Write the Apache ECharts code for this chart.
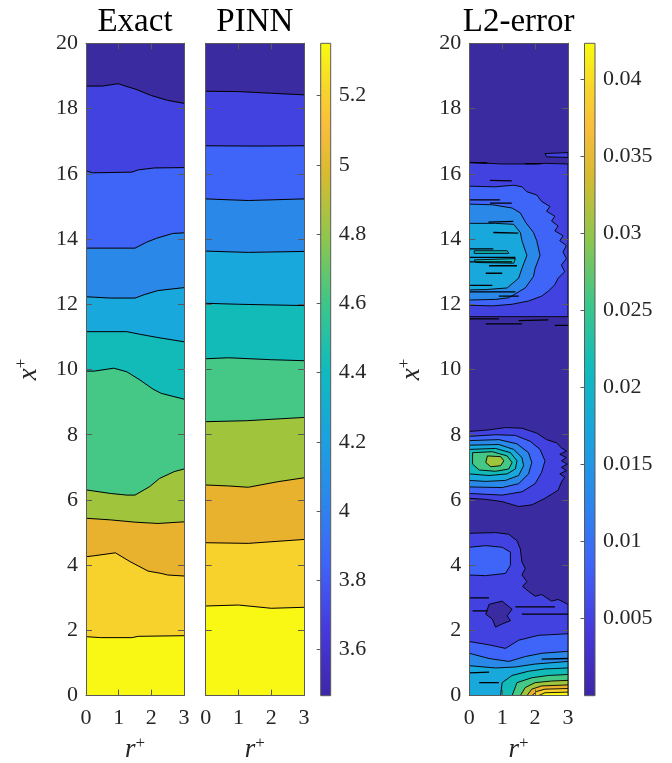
<!DOCTYPE html>
<html><head><meta charset="utf-8">
<script src="https://cdn.jsdelivr.net/npm/echarts@6/dist/echarts.min.js"></script>
<style>html,body{margin:0;padding:0;background:#fff}#c{width:672px;height:763px}</style>
</head><body><div id="c"></div>
<script>
// ---------------- data ----------------
const rTicks = [0, 1, 2, 3];
const xTicks = [0, 2, 4, 6, 8, 10, 12, 14, 16, 18, 20];
const cb1Ticks = [3.6, 3.8, 4, 4.2, 4.4, 4.6, 4.8, 5, 5.2];
const cb1Range = [3.467, 5.351];
const cb2Ticks = [0.005, 0.01, 0.015, 0.02, 0.025, 0.03, 0.035, 0.04];
const cb2Range = [0, 0.0423];
const panelTitles = ['Exact', 'PINN', 'L2-error'];
// contour fill colours, lowest band (x near 0 in Exact) first
const bandColors = ['#f8f814', '#f8d22c', '#e8b22e', '#a0c43c', '#45c885', '#12bab8', '#18a8dc', '#2a88e8', '#3f64f8', '#4242e0', '#3a2ca0'];
// parula stops for the colorbars
const parulaStops = [[0, '#3e26a8'], [0.1, '#4639dc'], [0.2, '#3f63f8'], [0.3, '#2b87ec'], [0.4, '#1aa3de'], [0.5, '#0fbbbd'], [0.6, '#3cc68a'], [0.7, '#8ec64e'], [0.8, '#d8bb30'], [0.87, '#f9bd3c'], [0.93, '#f7d52c'], [1, '#f9fb0e']];
// Exact contour lines (r, x+)
const exactLines = [
  [[0,1.81],[0.45,1.78],[1.4,1.78],[1.6,1.82],[3,1.84]],
  [[0,4.26],[0.25,4.29],[0.9,4.38],[1.35,4.11],[1.9,3.82],[2.3,3.75],[2.5,3.7],[3,3.67]],
  [[0,5.44],[0.75,5.39],[1.5,5.32],[2.2,5.28],[3,5.33]],
  [[0,6.31],[0.75,6.2],[1.25,6.15],[1.5,6.15],[1.95,6.41],[2.25,6.66],[2.7,6.87],[3,6.95]],
  [[0,9.95],[0.25,9.95],[0.85,10.04],[1.25,9.93],[1.65,9.68],[2.05,9.4],[2.3,9.27],[3,9.09]],
  [[0,11.16],[1.25,11.16],[1.65,11.08],[2.2,10.98],[3,10.85]],
  [[0,12.23],[0.75,12.19],[1.5,12.19],[1.8,12.3],[2.2,12.42],[3,12.51]],
  [[0,13.72],[1.5,13.72],[1.85,13.9],[2.15,14.02],[2.65,14.17],[3,14.19]],
  [[0,16.09],[0.2,16.03],[1.4,16.05],[1.6,16.12],[2.1,16.18],[3,16.19]],
  [[0,18.69],[0.5,18.69],[0.9,18.75],[1.0,18.76],[1.2,18.69],[1.5,18.6],[2.0,18.4],[2.5,18.25],[3,18.16]]
];
// PINN contour lines (r, x+)
const pinnLines = [
  [[0,2.75],[1,2.78],[2,2.68],[3,2.71]],
  [[0,4.69],[1.3,4.67],[3,4.79]],
  [[0,6.46],[0.7,6.43],[1.3,6.39],[2.2,6.56],[3,6.68]],
  [[0,8.4],[1.25,8.43],[3,8.53]],
  [[0,10.33],[0.7,10.36],[2,10.3],[3,10.27]],
  [[0,12.03],[1,12.0],[3,11.96]],
  [[0,13.63],[1.3,13.59],[3,13.62]],
  [[0,15.23],[1.3,15.18],[3,15.23]],
  [[0,16.86],[1.5,16.85],[3,16.86]],
  [[0,18.53],[1,18.52],[2,18.47],[3,18.42]]
];
// L2-error contour regions: [level, polygon (r, x+)]
const errColors = ['#3a2ca0', '#4242e0', '#3f64f8', '#2a88e8', '#18a8dc', '#12bab8', '#45c885', '#a0c43c', '#e8b22e', '#f8d22c', '#f8f814'];
const errUpper = [
  [1, [[0,16.35],[1.0,16.3],[2.0,16.3],[2.3,16.32],[3,16.3],[3,11.62],[0,11.62]]],
  [1, [[2.3,16.62],[3,16.65],[3,16.5],[2.35,16.52]]],
  [2, [[0,15.62],[0.8,15.6],[1.35,15.65],[1.6,15.6],[1.75,15.45],[2.05,15.35],[2.2,15.15],[2.45,15.0],[2.35,14.85],[2.6,14.7],[2.5,14.55],[2.7,14.4],[2.6,14.25],[2.85,14.1],[2.75,13.95],[2.95,13.8],[2.85,13.6],[2.95,13.4],[2.8,13.2],[2.9,13.0],[2.7,12.8],[2.6,12.6],[2.4,12.4],[2.2,12.25],[1.8,12.1],[1.3,12.0],[0.7,11.95],[0,11.97]]],
  [3, [[0,15.07],[0.7,15.05],[1.3,14.95],[1.55,14.8],[1.72,14.5],[1.95,14.2],[2.05,13.95],[2.15,13.5],[2.0,13.1],[1.95,12.85],[1.7,12.5],[1.2,12.2],[0.8,12.15],[0,12.13]]],
  [4, [[0,14.48],[0.8,14.48],[1.35,14.45],[1.55,14.2],[1.6,13.95],[1.75,13.5],[1.6,13.1],[1.5,12.8],[1.15,12.5],[0.5,12.45],[0,12.44]]],
  [5, [[0.15,13.64],[1.15,13.64],[1.2,13.56],[0.15,13.56]]],
  [5, [[0.15,13.36],[1.4,13.4],[1.35,13.26],[0.2,13.28]]]
];
const errMiddle = [
  [1, [[0,8.1],[0.6,8.15],[1.1,8.22],[1.6,8.2],[2.05,8.05],[2.35,7.85],[2.65,7.75],[2.8,7.6],[2.95,7.5],[2.75,7.4],[2.95,7.3],[2.8,7.2],[2.98,7.1],[2.8,7.0],[2.95,6.9],[2.75,6.8],[2.9,6.7],[2.8,6.55],[2.7,6.3],[2.3,6.05],[1.9,5.85],[1.5,5.8],[1.0,5.95],[0.5,6.02],[0,6.05]]],
  [2, [[0,7.95],[0.8,8.0],[1.4,7.98],[1.85,7.8],[2.15,7.55],[2.3,7.2],[2.2,6.85],[2.0,6.5],[1.6,6.25],[1.0,6.15],[0,6.2]]],
  [3, [[0,7.82],[0.9,7.85],[1.45,7.72],[1.8,7.45],[1.9,7.15],[1.8,6.8],[1.5,6.5],[1.0,6.38],[0,6.4]]],
  [4, [[0,7.68],[0.9,7.7],[1.35,7.55],[1.6,7.3],[1.65,7.05],[1.5,6.75],[1.1,6.6],[0.5,6.57],[0,6.6]]],
  [5, [[0,7.55],[0.8,7.58],[1.25,7.45],[1.45,7.2],[1.4,6.95],[1.15,6.8],[0.6,6.75],[0,6.8]]],
  [6, [[0.1,7.45],[0.7,7.48],[1.15,7.35],[1.3,7.15],[1.2,6.95],[0.8,6.88],[0.3,6.92],[0.1,7.1]]],
  [7, [[0.55,7.35],[0.95,7.33],[1.05,7.2],[0.95,7.05],[0.65,7.02],[0.5,7.15]]]
];
const errLower = [
  [1, [[0,4.98],[0.8,5.0],[1.2,4.95],[1.45,4.75],[1.55,4.5],[1.6,4.1],[1.7,3.9],[1.6,3.7],[1.75,3.5],[1.62,3.35],[1.8,3.2],[2.0,3.05],[2.2,3.1],[2.5,2.9],[2.7,2.95],[3,2.8],[3,0],[0,0]]],
  [0, [[0.6,2.8],[1.0,2.9],[1.3,2.65],[1.15,2.45],[1.25,2.3],[1.0,2.2],[0.8,2.1],[0.7,2.35],[0.5,2.5]]],
  [2, [[0,4.55],[0.5,4.6],[1.0,4.55],[1.25,4.4],[1.25,4.0],[1.1,3.75],[0.5,3.68],[0,3.7]]],
  [2, [[0,1.66],[0.6,1.56],[1.1,1.45],[1.5,1.7],[2.1,1.85],[3,1.9],[3,0],[0,0]]],
  [3, [[0,1.3],[0.6,1.14],[1.2,1.05],[1.7,1.2],[2.2,1.3],[3,1.36],[3,0],[0,0]]],
  [4, [[0,0.92],[0.8,0.85],[1.4,0.88],[2.0,0.97],[3,1.05],[3,0],[0,0]]],
  [5, [[0.95,0],[1.0,0.4],[1.3,0.62],[1.8,0.75],[2.3,0.82],[3,0.85],[3,0]]],
  [6, [[1.3,0],[1.45,0.4],[1.9,0.55],[2.4,0.62],[3,0.65],[3,0]]],
  [7, [[1.55,0],[1.7,0.25],[2.0,0.4],[2.5,0.45],[3,0.47],[3,0]]],
  [8, [[1.75,0],[1.9,0.2],[2.2,0.3],[3,0.33],[3,0]]],
  [9, [[1.9,0],[2.05,0.13],[2.3,0.2],[3,0.22],[3,0]]],
  [10, [[2.1,0],[2.3,0.09],[3,0.11],[3,0]]]
];
// short contour artefacts (streaks) in the L2-error field
const errStreaks = [
  [[0,16.34],[0.55,16.33]], [[1.7,16.31],[2.2,16.31]], [[0.63,15.8],[1.29,15.78]],
  [[0,15.2],[0.93,15.2]], [[0.63,15.1],[1.29,15.1]], [[0.58,14.52],[1.34,14.54]],
  [[0.73,14.2],[1.49,14.18]], [[0,13.7],[0.73,13.7]], [[0,13.44],[1.4,13.44]],
  [[0,13.3],[1.3,13.3]], [[0.6,13.18],[1.45,13.18]], [[0.5,12.95],[1.0,12.95]],
  [[0,12.58],[0.7,12.58]], [[0,12.38],[1.4,12.38]], [[0.9,12.25],[1.5,12.25]],
  [[0,11.55],[0.9,11.55]], [[1.5,11.5],[2.4,11.52]], [[0.5,11.4],[1.6,11.4]], [[2.6,11.35],[3,11.35]],
  [[0,3.0],[0.6,3.0]], [[0.1,2.6],[0.55,2.6]], [[1.4,2.72],[2.6,2.72]], [[1.6,2.5],[3,2.5]],
  [[2.2,1.12],[3,1.14]], [[0.3,0.4],[0.9,0.4]], [[0,0.7],[0.6,0.72]]
];

// ---------------- layout ----------------
const FONT = 'Liberation Serif';
const TXT = '#262626';
const BOX = '#5a5a5a';
const grids = [
  {left: 86, top: 43.3, width: 98, height: 652.4},
  {left: 205.7, top: 43.3, width: 98.3, height: 652.4},
  {left: 469.3, top: 43.3, width: 98.7, height: 652.4},
  {left: 320.7, top: 43.3, width: 10, height: 652.4},
  {left: 584.5, top: 43.3, width: 10.5, height: 652.4}
];
const nameRich = {
  i: {fontFamily: FONT, fontStyle: 'italic', fontSize: 27, color: TXT},
  s: {fontFamily: FONT, fontSize: 17, color: TXT, verticalAlign: 'bottom', padding: [0, 0, 14, 0]}
};
const xAxis = [], yAxis = [];
for (let g = 0; g < 3; g++) {
  xAxis.push({
    gridIndex: g, type: 'value', min: 0, max: 3, interval: 1, position: 'bottom', z: 10,
    axisLine: {show: true, onZero: false, lineStyle: {color: BOX, width: 1}},
    axisTick: {show: true, inside: true, length: 6, lineStyle: {color: BOX}},
    axisLabel: {show: true, fontFamily: FONT, fontSize: 22, color: TXT, margin: 12},
    splitLine: {show: false},
    name: '{i|r}{s|+}', nameLocation: 'middle', nameGap: 38,
    nameTextStyle: {rich: nameRich}
  });
  xAxis.push({
    gridIndex: g, type: 'value', min: 0, max: 3, interval: 1, position: 'top', z: 10,
    axisLine: {show: true, onZero: false, lineStyle: {color: BOX, width: 1}},
    axisTick: {show: true, inside: true, length: 6, lineStyle: {color: BOX}},
    axisLabel: {show: false}, splitLine: {show: false},
    name: panelTitles[g], nameLocation: 'middle', nameGap: 4,
    nameTextStyle: {fontFamily: FONT, fontSize: 33, color: '#000', verticalAlign: 'bottom'}
  });
  yAxis.push({
    gridIndex: g, type: 'value', min: 0, max: 20, interval: 2, position: 'left', z: 10,
    axisLine: {show: true, onZero: false, lineStyle: {color: BOX, width: 1}},
    axisTick: {show: true, inside: true, length: 6, lineStyle: {color: BOX}},
    axisLabel: {show: g !== 1, fontFamily: FONT, fontSize: 22, color: TXT, margin: 8},
    splitLine: {show: false},
    name: g !== 1 ? '{i|x}{s|+}' : '', nameLocation: 'middle', nameGap: 42, nameRotate: 90,
    nameTextStyle: {rich: nameRich}
  });
  yAxis.push({
    gridIndex: g, type: 'value', min: 0, max: 20, interval: 2, position: 'right', z: 10,
    axisLine: {show: true, onZero: false, lineStyle: {color: BOX, width: 1}},
    axisTick: {show: true, inside: true, length: 6, lineStyle: {color: BOX}},
    axisLabel: {show: false}, splitLine: {show: false}
  });
}
const cbs = [{range: cb1Range, ticks: cb1Ticks}, {range: cb2Range, ticks: cb2Ticks}];
cbs.forEach((cb, k) => {
  const g = 3 + k;
  xAxis.push({gridIndex: g, type: 'value', min: 0, max: 1, show: false});
  yAxis.push({
    gridIndex: g, type: 'value', min: cb.range[0], max: cb.range[1], position: 'right', z: 10,
    axisLine: {show: false},
    axisTick: {show: true, inside: true, length: 4, lineStyle: {color: BOX}, customValues: cb.ticks},
    axisLabel: {show: true, fontFamily: FONT, fontSize: 22, color: TXT, margin: 8, customValues: cb.ticks},
    splitLine: {show: false}
  });
});

function bandSeries(g, lines) {
  const all = [[[0, 0], [3, 0]]].concat(lines, [[[0, 20], [3, 20]]]);
  return {
    type: 'custom', xAxisIndex: 2 * g, yAxisIndex: 2 * g, clip: true, z: 2,
    data: bandColors.map((c, i) => ({value: [1.5, 10, i]})),
    renderItem(params, api) {
      const i = api.value(2);
      const lo = all[i], hi = all[i + 1];
      const pts = lo.map(p => api.coord(p)).concat(hi.slice().reverse().map(p => api.coord(p)));
      const children = [{type: 'polygon', shape: {points: pts}, style: {fill: bandColors[i], stroke: bandColors[i], lineWidth: 0.5}}];
      if (i > 0) children.push({type: 'polyline', z2: 5, shape: {points: lo.map(p => api.coord(p))}, style: {stroke: '#000', lineWidth: 1, fill: null}});
      return {type: 'group', children};
    }
  };
}
const errRegions = [[0, [[0, 0], [3, 0], [3, 20], [0, 20]]]].concat(errUpper, errMiddle, errLower);
const errSeries = {
  type: 'custom', xAxisIndex: 4, yAxisIndex: 4, clip: true, z: 2,
  data: errRegions.map((r, i) => ({value: [1.5, 10, i]})),
  renderItem(params, api) {
    const i = api.value(2);
    const reg = errRegions[i];
    const pts = reg[1].map(p => api.coord(p));
    return {type: 'polygon', shape: {points: pts}, z2: i,
      style: {fill: errColors[reg[0]], stroke: i === 0 ? null : '#000', lineWidth: 0.9}};
  }
};
const streakSeries = {
  type: 'custom', xAxisIndex: 4, yAxisIndex: 4, clip: true, z: 3,
  data: errStreaks.map((s, i) => ({value: [1.5, 10, i]})),
  renderItem(params, api) {
    const s = errStreaks[api.value(2)];
    return {type: 'polyline', shape: {points: s.map(p => api.coord(p))}, style: {stroke: '#000', lineWidth: 1.3, fill: null}};
  }
};
function cbSeries(k) {
  const cb = cbs[k];
  return {
    type: 'custom', xAxisIndex: 6 + k, yAxisIndex: 6 + k, z: 2,
    data: [{value: [0.5, (cb.range[0] + cb.range[1]) / 2]}],
    renderItem(params, api) {
      const p0 = api.coord([0, cb.range[1]]);
      const p1 = api.coord([1, cb.range[0]]);
      return {type: 'rect', shape: {x: p0[0], y: p0[1], width: p1[0] - p0[0], height: p1[1] - p0[1]},
        style: {fill: new echarts.graphic.LinearGradient(0, 1, 0, 0, parulaStops.map(s => ({offset: s[0], color: s[1]}))),
          stroke: BOX, lineWidth: 1}};
    }
  };
}

const chart = echarts.init(document.getElementById('c'), null, {renderer: 'canvas'});
chart.setOption({
  animation: false,
  backgroundColor: '#fff',
  grid: grids.map(g => Object.assign({containLabel: false, outerBoundsMode: 'none'}, g)),
  xAxis, yAxis,
  series: [bandSeries(0, exactLines), bandSeries(1, pinnLines), errSeries, streakSeries, cbSeries(0), cbSeries(1)]
});
</script></body></html>
